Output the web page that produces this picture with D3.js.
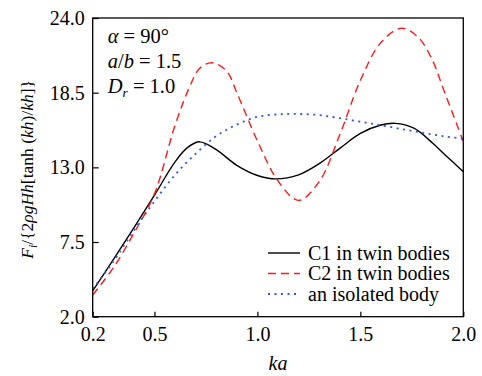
<!DOCTYPE html>
<html>
<head>
<meta charset="utf-8">
<script src="https://cdn.jsdelivr.net/npm/d3@7"></script>
<style>
  body { margin: 0; background: #fff; }
  svg text { font-family: "Liberation Serif", "Times New Roman", Times, "DejaVu Serif", serif; fill: #000; }
</style>
</head>
<body>
<div id="chart"></div>
<script>
// values
var kaC1  = [0.2, 0.3, 0.4, 0.5, 0.6, 0.66, 0.72, 0.8, 0.9, 1.0, 1.09, 1.2, 1.3, 1.4, 1.5, 1.6, 1.67, 1.76, 1.85, 1.92, 2.0]
var valC1 = [3.9, 6.2, 8.55, 10.95, 13.4, 14.45, 14.88, 14.3, 13.15, 12.4, 12.15, 12.45, 13.27, 14.4, 15.5, 16.12, 16.24, 15.88, 14.8, 13.8, 12.68]

var kaC2  = [0.2, 0.3, 0.4, 0.5, 0.6, 0.67, 0.72, 0.78, 0.85, 0.9, 1.0, 1.1, 1.2, 1.3, 1.4, 1.5, 1.6, 1.7, 1.78, 1.85, 1.9, 1.97, 2.0]
var valC2 = [3.6, 5.6, 8.15, 11.05, 16.1, 18.9, 20.3, 20.7, 20.1, 18.5, 14.95, 12.0, 10.57, 11.95, 15.4, 19.4, 22.2, 23.24, 22.6, 20.9, 18.9, 16.1, 14.9]

var kaIso  = [0.2, 0.3, 0.4, 0.5, 0.6, 0.7, 0.8, 0.9, 1.0, 1.1, 1.2, 1.3, 1.4, 1.5, 1.6, 1.7, 1.8, 1.9, 2.0]
var valIso = [4.05, 6.05, 8.35, 10.5, 12.45, 14.0, 15.3, 16.15, 16.72, 16.9, 16.93, 16.85, 16.62, 16.36, 16.1, 15.82, 15.55, 15.3, 15.1]

var xTicks = [0.2, 0.5, 1.0, 1.5, 2.0]
var yTicks = [2.0, 7.5, 13.0, 18.5, 24.0]
var legendNames = ["C1 in twin bodies", "C2 in twin bodies", "an isolated body"]

var serif = '"Liberation Serif", "Times New Roman", Times, "DejaVu Serif", serif'
var fs = 20

var W = 482, H = 376
var margin = {left: 92.7, top: 18, right: 482 - 463.3, bottom: 376 - 316.7}
var pw = W - margin.left - margin.right, ph = H - margin.top - margin.bottom

var svg = d3.select("#chart").append("svg")
    .attr("width", W).attr("height", H)
    .attr("font-family", serif)

var g = svg.append("g").attr("transform", "translate(" + margin.left + "," + margin.top + ")")

var x = d3.scaleLinear().domain([0.2, 2.0]).range([0, pw])
var y = d3.scaleLinear().domain([2.0, 24.0]).range([ph, 0])

var series = [
    {ka: kaC1, v: valC1, color: "#000000", dash: null, width: 1.4},
    {ka: kaC2, v: valC2, color: "#ff1a1a", dash: "8,5", width: 1.4},
    {ka: kaIso, v: valIso, color: "#3355ee", dash: "2,4.5", width: 1.8}
]

var line = d3.line()
    .x(function(d) { return x(d[0]) })
    .y(function(d) { return y(d[1]) })
    .curve(d3.curveCatmullRom.alpha(0.5))

g.append("clipPath").attr("id", "clip")
    .append("rect").attr("width", pw).attr("height", ph)

series.forEach(function(s) {
    g.append("path")
        .datum(d3.zip(s.ka, s.v))
        .attr("clip-path", "url(#clip)")
        .attr("fill", "none")
        .attr("stroke", s.color)
        .attr("stroke-width", s.width)
        .attr("stroke-dasharray", s.dash)
        .attr("d", line)
})

// frame
g.append("rect")
    .attr("width", pw).attr("height", ph)
    .attr("fill", "none").attr("stroke", "#000").attr("stroke-width", 1.3)

// axes, inward ticks
var xAxis = g.append("g").attr("transform", "translate(0," + ph + ")")
    .call(d3.axisBottom(x).tickValues(xTicks).tickFormat(d3.format(".1f")).tickSizeInner(-5).tickSizeOuter(0).tickPadding(10))
var yAxis = g.append("g")
    .call(d3.axisLeft(y).tickValues(yTicks).tickFormat(d3.format(".1f")).tickSizeInner(-6).tickSizeOuter(0).tickPadding(8))

;[xAxis, yAxis].forEach(function(a) {
    a.attr("font-family", serif).attr("font-size", fs)
    a.select(".domain").remove()
    a.selectAll("line").attr("stroke", "#000").attr("stroke-width", 1.2)
    a.selectAll("text").attr("fill", "#000")
})

// axis titles
svg.append("text")
    .attr("x", margin.left + pw / 2).attr("y", 370)
    .attr("text-anchor", "middle").attr("font-size", fs).attr("font-style", "italic")
    .text("ka")

var yl = svg.append("text")
    .attr("transform", "translate(33," + (margin.top + ph / 2 + 2) + ") rotate(-90)")
    .attr("text-anchor", "middle").attr("font-size", 17.5)
var parts = [["F", true], ["i", true, "sub"], ["/{2", false], ["ρgHh", true], ["[tanh (", false], ["kh", true], [")/", false], ["kh", true], ["]}", false]]
parts.forEach(function(p, i) {
    var t = yl.append("tspan").text(p[0]).attr("font-style", p[1] ? "italic" : "normal")
    if (p[2] == "sub") t.attr("dy", 4).attr("font-size", 12)
    else if (i > 0 && parts[i - 1][2] == "sub") t.attr("dy", -4)
})

// parameter annotations
var ann = g.append("g").attr("transform", "translate(15,0)").attr("font-size", 20.5)
var a1 = ann.append("text").attr("y", 25)
a1.append("tspan").text("α").attr("font-style", "italic")
a1.append("tspan").text(" = 90°")
var a2 = ann.append("text").attr("y", 50)
a2.append("tspan").text("a").attr("font-style", "italic")
a2.append("tspan").text("/")
a2.append("tspan").text("b").attr("font-style", "italic")
a2.append("tspan").text(" = 1.5")
var a3 = ann.append("text").attr("y", 75)
a3.append("tspan").text("D").attr("font-style", "italic")
a3.append("tspan").text("r").attr("font-style", "italic").attr("font-size", 13.5).attr("dy", 4)
a3.append("tspan").text(" = 1.0").attr("dy", -4)

// legend
var leg = svg.append("g").attr("transform", "translate(268,253)")
legendNames.forEach(function(name, i) {
    var s = series[i]
    var row = leg.append("g").attr("transform", "translate(0," + (i * 20.5) + ")")
    row.append("line").attr("x1", 0).attr("x2", 32)
        .attr("stroke", s.color).attr("stroke-width", s.width).attr("stroke-dasharray", s.dash)
    row.append("text").attr("x", 40).attr("y", 6.5).attr("font-size", 20).text(name)
})
</script>
</body>
</html>
